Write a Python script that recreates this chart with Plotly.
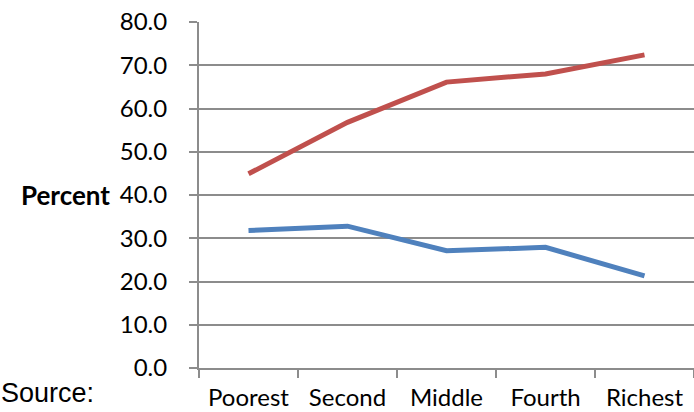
import plotly.graph_objects as go

# Wealth quintiles and the two series (percent)
quintiles = ["Poorest", "Second", "Middle", "Fourth", "Richest"]
series_red = [44.9, 56.8, 66.1, 68.0, 72.4]
series_blue = [31.8, 32.8, 27.1, 27.9, 21.3]
y_ticks = [0, 10, 20, 30, 40, 50, 60, 70, 80]

GRID = "#8c8c8c"
FONT = "Lato"

fig = go.Figure()
fig.add_trace(go.Scatter(
    x=quintiles, y=series_red, mode="lines",
    line=dict(color="#C0504D", width=5),
    showlegend=False, hoverinfo="skip",
))
fig.add_trace(go.Scatter(
    x=quintiles, y=series_blue, mode="lines",
    line=dict(color="#4F81BD", width=5),
    showlegend=False, hoverinfo="skip",
))

fig.update_layout(
    width=694, height=412,
    margin=dict(l=199, r=0, t=22, b=44),
    paper_bgcolor="white", plot_bgcolor="white",
    font=dict(family=FONT, size=24, color="black"),
    xaxis=dict(
        type="category", range=[-0.5, 4.5],
        tickson="boundaries", ticks="outside", ticklen=8,
        tickcolor=GRID, tickwidth=2,
        showline=True, linecolor=GRID, linewidth=2,
        showgrid=False, zeroline=False,
        tickfont=dict(family=FONT, size=24),
        ticklabelstandoff=7,
    ),
    yaxis=dict(
        range=[0, 80], tickvals=y_ticks,
        ticktext=[f"{v:.1f}" for v in y_ticks],
        ticks="outside", ticklen=8, tickcolor=GRID, tickwidth=2,
        showline=True, linecolor=GRID, linewidth=2,
        showgrid=True, gridcolor=GRID, gridwidth=2,
        zeroline=False,
        tickfont=dict(family=FONT, size=24),
        ticklabelstandoff=17,
    ),
    annotations=[
        dict(text="<b>Percent</b>", xref="paper", yref="y", x=-0.175, y=40,
             xanchor="right", yanchor="middle", showarrow=False,
             font=dict(family=FONT, size=26)),
        dict(text="Source:", xref="paper", yref="paper", x=-0.404, y=-0.072,
             xanchor="left", yanchor="middle", showarrow=False,
             font=dict(family="Liberation Sans", size=27)),
    ],
)

fig.write_html("out.html")
